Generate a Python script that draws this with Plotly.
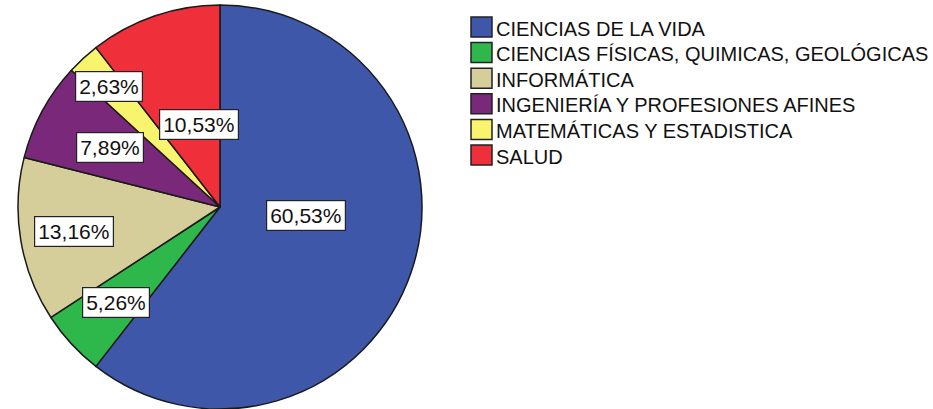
import math
import plotly.graph_objects as go

# ---- data ----
categories = [
    "CIENCIAS DE LA VIDA",
    "CIENCIAS FÍSICAS, QUIMICAS, GEOLÓGICAS",
    "INFORMÁTICA",
    "INGENIERÍA Y PROFESIONES AFINES",
    "MATEMÁTICAS Y ESTADISTICA",
    "SALUD",
]
counts = [23, 2, 5, 3, 1, 4]
colors = ["#3E57A9", "#2EB74A", "#D5CD9A", "#7A2879", "#F8F46E", "#EF2F3A"]

# ---- layout constants ----
W, H = 933, 409
CX, CY, R = 220, 207, 202          # pie centre / radius in pixels (from top-left)
FONT = "Liberation Sans, Arial, sans-serif"

# label placement (styling): angular nudge (deg) and radial fraction per slice
label_shift = [-13, 0, 0, 0, 0, 4.5]
label_rfrac = [0.43, 0.70, 0.735, 0.62, 0.81, 0.42]

total = sum(counts)
pct_text = [f"{c / total * 100:.2f}".replace(".", ",") + "%" for c in counts]

fig = go.Figure()
fig.add_trace(go.Pie(
    labels=categories,
    values=counts,
    sort=False,
    direction="clockwise",
    rotation=0,
    textinfo="none",
    marker=dict(colors=colors, line=dict(color="#1a1a1a", width=1.5)),
    domain=dict(x=[(CX - R) / W, (CX + R) / W], y=[(H - CY - R) / H, (H - CY + R) / H]),
    showlegend=False,
    hoverinfo="label+percent",
))

annotations = []
shapes = []

# percentage labels, placed from the slice mid-angles
cum = 0
for i, c in enumerate(counts):
    mid = (cum + c / 2) / total * 360.0
    cum += c
    ang = math.radians(mid + label_shift[i])
    r = label_rfrac[i] * R
    px = CX + r * math.sin(ang)
    py = CY - r * math.cos(ang)
    annotations.append(dict(
        x=px / W, y=1 - py / H, xref="paper", yref="paper",
        text=pct_text[i], showarrow=False,
        font=dict(family=FONT, size=21, color="#111111"),
        bgcolor="white", bordercolor="#222222", borderwidth=1.2, borderpad=3,
        xanchor="center", yanchor="middle",
    ))

# custom legend
LX, LY0, LDY = 471, 17, 25.6
SW, SH = 21, 20
for i, cat in enumerate(categories):
    top = LY0 + i * LDY
    shapes.append(dict(
        type="rect", xref="paper", yref="paper",
        x0=LX / W, x1=(LX + SW) / W, y0=1 - top / H, y1=1 - (top + SH) / H,
        fillcolor=colors[i], line=dict(color="#222222", width=1.5),
    ))
    annotations.append(dict(
        x=(LX + SW + 2) / W, y=1 - (top + 11.5) / H, xref="paper", yref="paper",
        text=cat, showarrow=False, xanchor="left", yanchor="middle",
        font=dict(family=FONT, size=20, color="#111111"),
    ))

fig.update_layout(
    width=W, height=H,
    margin=dict(l=0, r=0, t=0, b=0),
    paper_bgcolor="white", plot_bgcolor="white",
    annotations=annotations, shapes=shapes,
)

fig.write_html("out.html")
